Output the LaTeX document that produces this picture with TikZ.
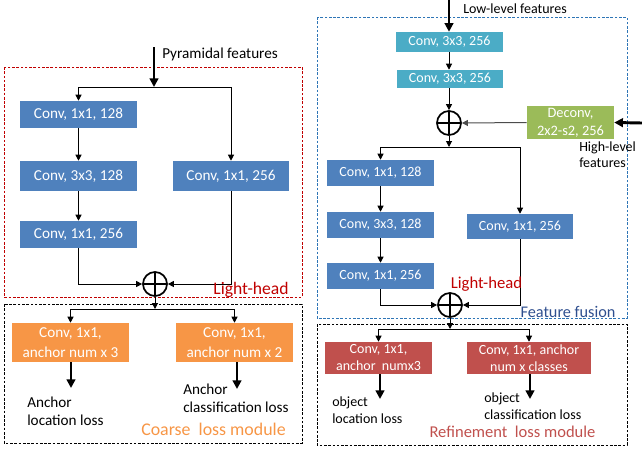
\documentclass[tikz,border=0pt]{standalone}
\usepackage{fontspec}
\setmainfont{Carlito}
\usetikzlibrary{arrows.meta}
\definecolor{cblue}{HTML}{4F81BD}
\definecolor{ccyan}{HTML}{4BACC6}
\definecolor{cgreen}{HTML}{9BBB59}
\definecolor{corange}{HTML}{F79646}
\definecolor{cred}{HTML}{C0504D}
\definecolor{lhred}{HTML}{C00000}
\definecolor{ffblue}{HTML}{2F4F8F}
\definecolor{dashblue}{HTML}{2E75B6}
\begin{document}
\begin{tikzpicture}[x=0.75pt,y=-0.75pt,
  sz/.style 2 args={minimum width=#1*0.75pt, minimum height=#2*0.75pt},
  boxL/.style={rectangle, inner sep=0, text=white, align=center, font=\fontsize{11.4}{15}\selectfont},
  boxR/.style={rectangle, inner sep=0, text=white, align=center, font=\fontsize{10.5}{12.75}\selectfont},
  oplus/.style={circle, draw, line width=1.3pt, minimum size=24*0.75pt, inner sep=0,
    path picture={\draw[line width=1.3pt] (path picture bounding box.north) -- (path picture bounding box.south)
      (path picture bounding box.west) -- (path picture bounding box.east);}},
  arr/.style={draw, line width=0.75pt, -{Triangle[length=4.5pt,width=4.5pt]}},
  thk/.style={draw, line width=2.2pt, -{Triangle[length=6.5pt,width=6.5pt]}},
  txtL/.style={inner sep=0, anchor=west, align=left, font=\fontsize{11.4}{13.5}\selectfont},
  txtR/.style={inner sep=0, anchor=west, align=left, font=\fontsize{10.5}{12.5}\selectfont},
  dbox/.style={draw, line width=0.6pt, dash pattern=on 2pt off 1.2pt}
]
\useasboundingbox (0,0) rectangle (642,450);

% ---------- left panel ----------
\draw[dbox, draw=lhred] (4,67) rectangle (302,297);
\draw[dbox, draw=black] (4,304) rectangle (302,443);

\node[boxL, fill=cblue, sz={117}{27}] (b1) at (78.5,114.5) {Conv, 1x1, 128};
\node[boxL, fill=cblue, sz={117}{30}] (b2) at (78.5,176) {Conv, 3x3, 128};
\node[boxL, fill=cblue, sz={117}{27}] (b3) at (78.5,234.5) {Conv, 1x1, 256};
\node[boxL, fill=cblue, sz={116}{30}] (b4) at (231,176) {Conv, 1x1, 256};
\node[oplus] (c1) at (155,284) {};
\node[boxL, fill=corange, sz={117}{39}] (o1) at (70.5,342.5) {Conv, 1x1,\\anchor num x 3};
\node[boxL, fill=corange, sz={117}{39}] (o2) at (234.5,342.5) {Conv, 1x1,\\anchor num x 2};

\coordinate (pf) at (154,47);
\coordinate (sp1) at (154,87);
\coordinate (sp2) at (155,309);
\coordinate (e1) at (71,388);
\coordinate (e2) at (237,389);

\draw[thk] (pf) -- (sp1);
\draw[arr] (sp1) -| (b1.north);
\draw[arr] (sp1) -| (b4.north);
\draw[arr] (b1) -- (b2);
\draw[arr] (b2) -- (b3);
\draw[arr] (b3.south) |- (c1.west);
\draw[arr] (b4.south) |- (c1.east);
\draw[arr] (c1.south) -- (sp2);
\draw[arr] (sp2) -| (o1.north);
\draw[arr] (sp2) -| (o2.north);
\draw[thk] (o1.south -| e1) -- (e1);
\draw[thk] (o2.south -| e2) -- (e2);

\node[txtL] (pft) at (162,54) {Pyramidal features};
\node[txtL] (alt) at (27,411) {Anchor\\location loss};
\node[txtL] (act) at (183,398) {Anchor\\classification loss};
\node[inner sep=0, text=corange, font=\fontsize{13.4}{15}\selectfont] (clm) at (213.5,429) {Coarse\ \ loss module};
\node[inner sep=0, text=lhred, font=\fontsize{13.2}{15}\selectfont] (lh1) at (251,290) {Light-head};

% ---------- right panel ----------
\draw[dbox, draw=dashblue] (317,17) rectangle (627,318);
\draw[dbox, draw=black] (317,324) rectangle (627,445);

\node[boxR, fill=ccyan, sz={107}{20}] (cy1) at (449.5,42) {Conv, 3x3, 256};
\node[boxR, fill=ccyan, sz={106}{18}] (cy2) at (450,79) {Conv, 3x3, 256};
\node[oplus] (c2) at (449,123) {};
\node[boxR, fill=cgreen, sz={87}{33}, font=\fontsize{10.8}{13.5}\selectfont] (dc) at (570.5,122.5) {Deconv,\\2x2-s2, 256};
\node[boxR, fill=cblue, sz={107}{26}] (r1) at (380.5,173) {Conv, 1x1, 128};
\node[boxR, fill=cblue, sz={107}{26}] (r2) at (380.5,225) {Conv, 3x3, 128};
\node[boxR, fill=cblue, sz={107}{26}] (r3) at (380.5,276) {Conv, 1x1, 256};
\node[boxR, fill=cblue, sz={106}{25}] (r4) at (520,226.5) {Conv, 1x1, 256};
\node[oplus] (c3) at (450,305) {};
\node[boxR, fill=cred, sz={107}{32}] (d1) at (378.5,358) {Conv, 1x1,\\anchor\ \ numx3};
\node[boxR, fill=cred, sz={124}{32}] (d2) at (529,358) {Conv, 1x1, anchor\\num x classes};

\coordinate (lf) at (449,0);
\coordinate (hf) at (642,123);
\coordinate (sp3) at (449,147);
\coordinate (sp4) at (450,329);
\coordinate (e3) at (380,399);
\coordinate (e4) at (530,399);

\draw[thk] (lf) -- (cy1.north -| lf);
\draw[arr] (cy1.south -| lf) -- (cy2.north -| lf);
\draw[arr] (cy2.south -| lf) -- (c2.north);
\draw[arr, draw=black!70] (dc.west) -- (c2.east);
\draw[thk] (hf) -- (dc.east);
\draw[arr] (c2.south) -- (sp3);
\draw[arr] (sp3) -| (r1.north);
\draw[arr] (sp3) -| (r4.north);
\draw[arr] (r1) -- (r2);
\draw[arr] (r2) -- (r3);
\draw[arr] (r3.south) |- (c3.west);
\draw[arr] (r4.south) |- (c3.east);
\draw[arr] (c3.south) -- (sp4);
\draw[arr] (sp4) -| (d1.north);
\draw[arr] (sp4) -| (d2.north);
\draw[thk] (d1.south -| e3) -- (e3);
\draw[thk] (d2.south -| e4) -- (e4);

\node[txtR] (lft) at (463,9) {Low-level features};
\node[txtR, font=\fontsize{10.5}{12}\selectfont] (hft) at (579,155) {High-level\\features};
\node[inner sep=0, text=lhred, font=\fontsize{12.5}{15}\selectfont] (lh2) at (486.5,284) {Light-head};
\node[inner sep=0, text=ffblue, font=\fontsize{12.2}{15}\selectfont] (fft) at (568,312) {Feature fusion};
\node[txtR, font=\fontsize{10.5}{12.75}\selectfont] (olt) at (332,410) {object\\location loss};
\node[txtR, font=\fontsize{10.5}{12.75}\selectfont] (oct) at (484,406) {object\\classification loss};
\node[inner sep=0, text=cred, font=\fontsize{12.4}{15}\selectfont] (rlm) at (512.5,432) {Refinement\ \ loss module};
\end{tikzpicture}
\end{document}
